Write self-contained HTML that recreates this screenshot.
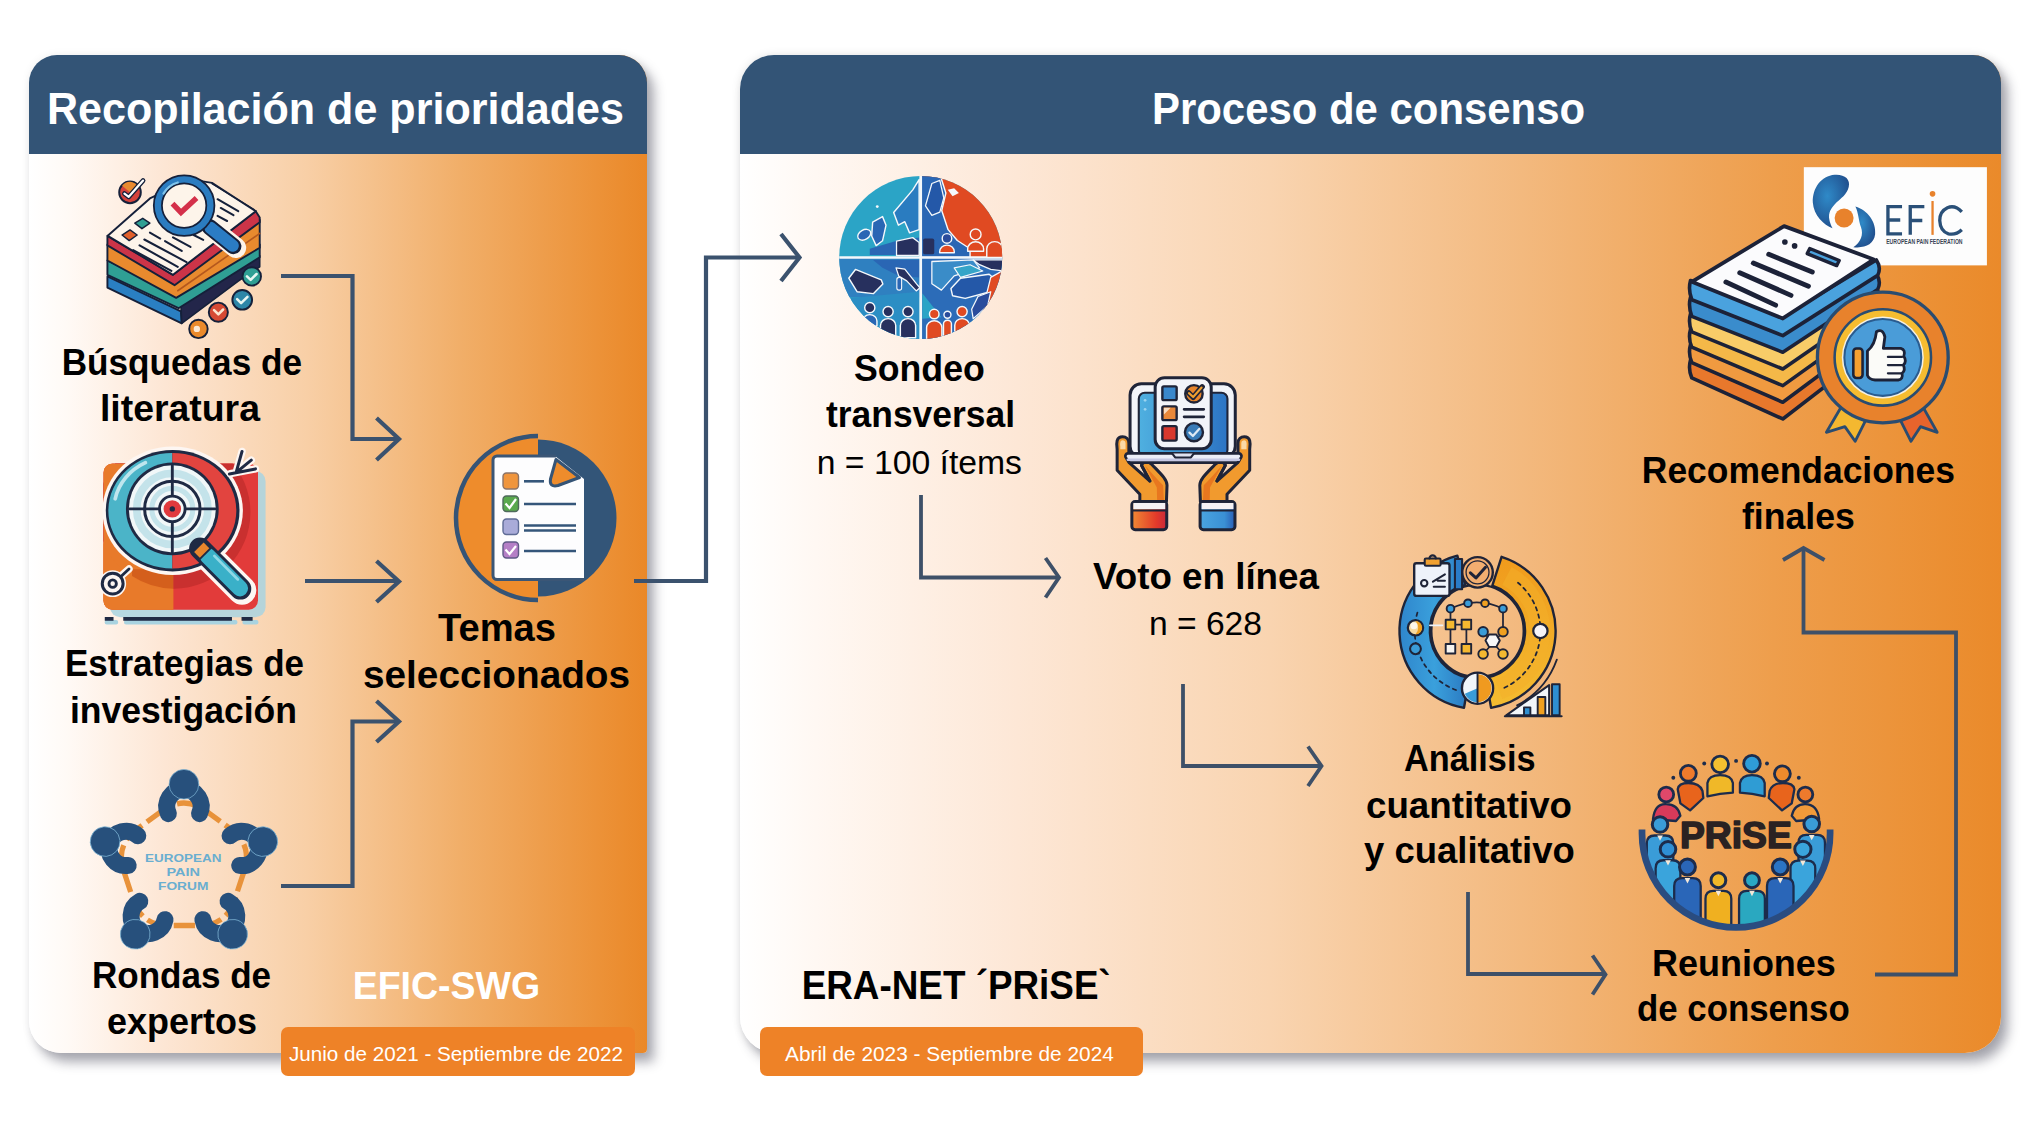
<!DOCTYPE html>
<html><head><meta charset="utf-8">
<style>
html,body{margin:0;padding:0;background:#fff;}
body{width:2040px;height:1131px;position:relative;overflow:hidden;font-family:"Liberation Sans",sans-serif;}
.panel{position:absolute;top:55px;height:998px;overflow:hidden;}
#pl{left:29px;width:618px;border-radius:28px 28px 4px 32px;background:linear-gradient(90deg,#ffffff 0%,#fffaf6 6%,#fde6d4 22%,#f8cfa6 45%,#f1ae68 70%,#ec9238 92%,#ea8828 100%);}
#pr{left:740px;width:1261px;border-radius:34px 28px 36px 36px;background:linear-gradient(90deg,#ffffff 0%,#fff8f3 6%,#fde7d6 22%,#f9d4b0 42%,#f3b97e 62%,#ee9e4c 82%,#ea8a2a 100%);}
.sh{position:absolute;top:55px;height:998px;}
#sl{left:29px;width:618px;border-radius:28px 28px 4px 32px;box-shadow:7px 9px 12px rgba(40,40,60,.40),0 0 10px rgba(0,0,0,.06);}
#sr{left:740px;width:1261px;border-radius:34px 28px 36px 36px;box-shadow:7px 9px 12px rgba(40,40,60,.40),0 0 10px rgba(0,0,0,.10);}
.hd{position:absolute;left:0;top:0;right:0;height:98.5px;background:#335476;}
.badge{position:absolute;top:1027px;height:49px;border-radius:7px;background:#ee8227;}
svg{position:absolute;left:0;top:0;}
text{font-family:"Liberation Sans",sans-serif;}
.b{font-weight:bold;}
</style></head><body>
<div class="sh" id="sl"></div><div class="sh" id="sr"></div>
<div class="panel" id="pl"><div class="hd"></div></div>
<div class="panel" id="pr"><div class="hd"></div></div>
<div class="badge" style="left:280.5px;width:354.5px"></div>
<div class="badge" style="left:759.5px;width:383px"></div>
<svg width="2040" height="1131" viewBox="0 0 2040 1131">
<!-- ARROWS -->
<g id="arrows" fill="none" stroke="#3b526e" stroke-width="4.2" stroke-linejoin="miter">
<path d="M281 276H352.5V439H398"/><path d="M376.5 418L399 439L376.5 460"/>
<path d="M305 581H398"/><path d="M376.5 561L399 581.5L376.5 602"/>
<path d="M281 886H352.5V721.5H398"/><path d="M376.5 701L399 721.5L376.5 742"/>
<path d="M634 581H706V257.5H798"/><path d="M781 234L799.5 257.5L781 281"/>
</g>
<g id="arrows2" fill="none" stroke="#3e5068" stroke-width="3.8" stroke-linejoin="miter">
<path d="M921 495V577.5H1058"/><path d="M1045.5 558L1059 577.5L1045.5 597.5"/>
<path d="M1183 684V766H1320"/><path d="M1308 746.5L1321.5 766L1308 786"/>
<path d="M1468 892V974H1604"/><path d="M1592.5 955.5L1605.5 974.5L1592.5 994.5"/>
<path d="M1875 974.5H1956V632.5H1803.5V549"/><path d="M1783 560L1803.5 548L1824.5 560"/>
</g>
<!-- TEXT -->
<g id="txt" fill="#000">
<text class="b" x="47.0" y="124" font-size="45" fill="#fff" textLength="577.0" lengthAdjust="spacingAndGlyphs">Recopilación de prioridades</text>
<text class="b" x="1152.0" y="124" font-size="45" fill="#fff" textLength="433.1" lengthAdjust="spacingAndGlyphs">Proceso de consenso</text>
<text class="b" x="61.7" y="375" font-size="36" textLength="240.3" lengthAdjust="spacingAndGlyphs">Búsquedas de</text>
<text class="b" x="99.9" y="421" font-size="36" textLength="160.1" lengthAdjust="spacingAndGlyphs">literatura</text>
<text class="b" x="65.0" y="676" font-size="36" textLength="239.0" lengthAdjust="spacingAndGlyphs">Estrategias de</text>
<text class="b" x="69.9" y="722.5" font-size="36" textLength="227.1" lengthAdjust="spacingAndGlyphs">investigación</text>
<text class="b" x="92.0" y="987.5" font-size="36" textLength="179.1" lengthAdjust="spacingAndGlyphs">Rondas de</text>
<text class="b" x="107.0" y="1033.5" font-size="36" textLength="150.0" lengthAdjust="spacingAndGlyphs">expertos</text>
<text class="b" x="438.0" y="641" font-size="39.5" textLength="118.0" lengthAdjust="spacingAndGlyphs">Temas</text>
<text class="b" x="363.0" y="687.5" font-size="39.5" textLength="267.1" lengthAdjust="spacingAndGlyphs">seleccionados</text>
<text class="b" x="352.7" y="999" font-size="39.5" fill="#fff" textLength="187.4" lengthAdjust="spacingAndGlyphs">EFIC-SWG</text>
<text x="289.0" y="1060.5" font-size="20.5" fill="#fff" textLength="334.0" lengthAdjust="spacingAndGlyphs">Junio de 2021 - Septiembre de 2022</text>
<text class="b" x="854.0" y="381" font-size="36" textLength="130.8" lengthAdjust="spacingAndGlyphs">Sondeo</text>
<text class="b" x="826.0" y="427" font-size="36" textLength="189.0" lengthAdjust="spacingAndGlyphs">transversal</text>
<text x="816.7" y="473.5" font-size="33.5" textLength="205.3" lengthAdjust="spacingAndGlyphs">n = 100 ítems</text>
<text class="b" x="1093.0" y="589" font-size="36" textLength="225.9" lengthAdjust="spacingAndGlyphs">Voto en línea</text>
<text x="1148.9" y="635" font-size="33.5" textLength="113.1" lengthAdjust="spacingAndGlyphs">n = 628</text>
<text class="b" x="1404.0" y="771" font-size="36" textLength="131.5" lengthAdjust="spacingAndGlyphs">Análisis</text>
<text class="b" x="1366.0" y="817.5" font-size="36" textLength="206.0" lengthAdjust="spacingAndGlyphs">cuantitativo</text>
<text class="b" x="1364.0" y="862.5" font-size="36" textLength="210.8" lengthAdjust="spacingAndGlyphs">y cualitativo</text>
<text class="b" x="1652.0" y="975.5" font-size="36" textLength="183.8" lengthAdjust="spacingAndGlyphs">Reuniones</text>
<text class="b" x="1637.0" y="1021" font-size="36" textLength="212.7" lengthAdjust="spacingAndGlyphs">de consenso</text>
<text class="b" x="1641.8" y="482.5" font-size="36" textLength="313.1" lengthAdjust="spacingAndGlyphs">Recomendaciones</text>
<text class="b" x="1742.0" y="528.5" font-size="36" textLength="112.8" lengthAdjust="spacingAndGlyphs">finales</text>
<text class="b" x="801.7" y="999" font-size="40" textLength="309.1" lengthAdjust="spacingAndGlyphs">ERA-NET ´PRiSE`</text>
<text x="785.0" y="1060.5" font-size="20.5" fill="#fff" textLength="328.8" lengthAdjust="spacingAndGlyphs">Abril de 2023 - Septiembre de 2024</text>
</g>
<!-- ICONS -->
<g id="ico1" transform="translate(95,165) scale(0.15915)" stroke-linejoin="round" stroke-linecap="round">
<!-- blue bottom -->
<path d="M78 700L540 920L545 995L78 770Z" fill="#2a7fc2" stroke="#15203a" stroke-width="12"/>
<path d="M540 880L1035 570L1035 640L900 730L545 995Z" fill="#23264a" stroke="#15203a" stroke-width="10"/>
<!-- teal -->
<path d="M78 600L520 820L1035 500L1035 580L525 900L78 690Z" fill="#2f9f94" stroke="#15203a" stroke-width="12"/>
<!-- orange -->
<path d="M78 500L500 745L1035 345L1035 520L510 835L78 600Z" fill="#e98a2e" stroke="#15203a" stroke-width="12"/>
<path d="M520 790L1035 430" fill="none" stroke="#b4581e" stroke-width="10"/>
<!-- red -->
<path d="M78 445L490 690L1010 290L1035 330L1035 360L500 755L78 505Z" fill="#cc3448" stroke="#15203a" stroke-width="12"/>
<!-- paper -->
<path d="M80 445L345 210L600 90L735 112L1010 290L490 690Z" fill="#fdf4ea" stroke="#15203a" stroke-width="12"/>
<!-- squares -->
<path d="M250 365L300 335L345 365L295 400Z" fill="#2f9f94" stroke="#15203a" stroke-width="9"/>
<path d="M170 440L220 408L265 440L215 475Z" fill="#e0602c" stroke="#15203a" stroke-width="9"/>
<!-- lines -->
<g stroke="#15203a" stroke-width="13" fill="none">
<path d="M345 425L410 462M440 478L545 540"/><path d="M310 468L575 610"/><path d="M280 505L520 640"/><path d="M240 535L480 665" />
<path d="M490 455L600 515M620 440L680 470"/>
<path d="M770 215L900 290"/><path d="M790 270L870 315"/><path d="M770 320L830 352"/><path d="M735 118L1000 280" stroke-width="8"/>
</g>
<!-- magnifier -->
<path d="M715 385L885 520" stroke="#fdf4ea" stroke-width="130" fill="none"/>
<path d="M720 390L870 510" stroke="#15203a" stroke-width="100" fill="none"/>
<path d="M725 394L866 507" stroke="#2b7cc4" stroke-width="76" fill="none"/>
<circle cx="560" cy="255" r="165" fill="#fdf4ea" stroke="#15203a" stroke-width="62"/>
<circle cx="560" cy="255" r="165" fill="none" stroke="#2b7cc0" stroke-width="40"/>
<path d="M430 180A150 150 0 0 1 520 110" stroke="#7fc3ea" stroke-width="14" fill="none"/>
<path d="M487 243L540 298L638 207" fill="none" stroke="#d4304a" stroke-width="34" stroke-linejoin="miter" stroke-linecap="butt"/>
<!-- balls -->
<circle cx="220" cy="172" r="68" fill="#d4423c" stroke="#15203a" stroke-width="12"/>
<path d="M170 130A60 60 0 0 1 270 135L220 172Z" fill="#e88a30"/>
<path d="M185 180L212 200L302 98" fill="none" stroke="#15203a" stroke-width="30"/>
<path d="M185 180L212 200L302 98" fill="none" stroke="#fff" stroke-width="14"/>
<circle cx="985" cy="700" r="58" fill="#2f9f94" stroke="#15203a" stroke-width="12"/>
<path d="M955 700L978 722L1015 685" fill="none" stroke="#e8f6f2" stroke-width="16"/>
<circle cx="925" cy="847" r="62" fill="#2c86a8" stroke="#15203a" stroke-width="12"/>
<path d="M893 843L918 868L958 828" fill="none" stroke="#e8f6f2" stroke-width="16"/>
<circle cx="775" cy="925" r="60" fill="#d64a34" stroke="#15203a" stroke-width="12"/>
<path d="M748 912L775 938L805 908" fill="none" stroke="#fbe6d0" stroke-width="16"/>
<circle cx="650" cy="1030" r="58" fill="#ea8a2c" stroke="#15203a" stroke-width="12"/>
<circle cx="640" cy="1030" r="20" fill="#fbe9d6"/>
</g>
<g id="ico2" transform="translate(90,440) scale(0.168)" stroke-linejoin="round" stroke-linecap="round">
<defs><clipPath id="c2a"><rect x="80" y="140" width="920" height="870" rx="55"/></clipPath></defs>
<rect x="120" y="185" width="925" height="870" rx="60" fill="#a9d3e0" opacity=".85"/>
<rect x="80" y="140" width="920" height="870" rx="55" fill="#e23b3a"/>
<g clip-path="url(#c2a)">
<rect x="80" y="140" width="415" height="870" fill="#e87a2a"/>
<circle cx="500" cy="430" r="455" fill="#c9302f"/>
<path d="M495 140V1010H80V140Z" fill="#e87a2a"/>
<path d="M495 885A455 455 0 0 1 60 560L60 1010H495Z" fill="#e87a2a"/>
<path d="M495 885A455 455 0 0 1 250 810L250 770L495 770Z" fill="#d45f1c"/>
</g>
<ellipse cx="492" cy="421" rx="418" ry="382" fill="#fdf6f2"/>
<path d="M650 640L905 895" stroke="#fdf6f2" stroke-width="170" fill="none"/>
<ellipse cx="492" cy="421" rx="398" ry="361" fill="#1f2a44"/>
<path d="M490 77A381 344 0 0 0 490 765Z" fill="#4bb4c8"/>
<path d="M490 77A381 344 0 0 1 490 765Z" fill="#e2443f"/>
<path d="M150 350A345 310 0 0 1 330 135" fill="none" stroke="#bfe6ee" stroke-width="22"/>
<circle cx="490" cy="410" r="276" fill="#1f2a44"/>
<circle cx="490" cy="410" r="259" fill="#f1f7f8"/>
<circle cx="490" cy="410" r="212" fill="none" stroke="#c4e3ea" stroke-width="46"/>
<circle cx="490" cy="410" r="165" fill="#f1f7f8" stroke="#1f2a44" stroke-width="18"/>
<circle cx="490" cy="410" r="122" fill="none" stroke="#c4e3ea" stroke-width="30"/>
<path d="M235 410H745M490 150V670" stroke="#1f2a44" stroke-width="17" fill="none"/>
<circle cx="490" cy="410" r="76" fill="#f1f7f8" stroke="#1f2a44" stroke-width="17"/>
<circle cx="490" cy="410" r="52" fill="#e03a3e"/>
<circle cx="490" cy="410" r="16" fill="#1f2a44"/>
<path d="M655 645L895 885" stroke="#1f2a44" stroke-width="130" fill="none"/>
<path d="M700 690L893 883" stroke="#3ab0c8" stroke-width="96" fill="none"/>
<path d="M640 630L690 680" stroke="#1f2a44" stroke-width="110" stroke-linecap="butt" fill="none"/>
<path d="M648 638L682 672" stroke="#e8862c" stroke-width="80" stroke-linecap="butt" fill="none"/>
<path d="M740 690L880 830" stroke="#8fd8e6" stroke-width="16" fill="none"/>
<g stroke="#fdf6f2" stroke-width="44" fill="none"><path d="M835 200L985 172M872 185L905 68M880 185L960 120"/></g>
<g stroke="#1f2a44" stroke-width="18" fill="none"><path d="M830 202L985 172M872 185L905 68M880 185L960 120"/></g>
<path d="M150 840L232 768" stroke="#fdf6f2" stroke-width="44" fill="none"/>
<circle cx="135" cy="855" r="80" fill="#fdf6f2"/>
<path d="M165 830L232 768" stroke="#1f2a44" stroke-width="17" fill="none"/>
<circle cx="135" cy="855" r="62" fill="#fdf6f2" stroke="#1f2a44" stroke-width="18"/>
<circle cx="135" cy="855" r="22" fill="#fdf6f2" stroke="#1f2a44" stroke-width="17"/>
<path d="M100 1085H155M215 1085H865M920 1085H990" stroke="#a9d3e0" stroke-width="26" fill="none"/>
<path d="M88 1065H140M198 1065H845M902 1065H968" stroke="#1f2a44" stroke-width="22" stroke-linecap="butt" fill="none"/>
</g>
<g id="ico3" transform="translate(80,762) scale(0.17677)">
<path d="M464 277Q588 187 712 277L852 379Q976 469 929 615L875 779Q828 925 674 925L502 925Q348 925 301 779L247 615Q200 469 324 379Z" fill="none" stroke="#e8923a" stroke-width="30" stroke-linejoin="round" stroke-dasharray="120 34" stroke-dashoffset="60"/>
<g transform="rotate(0 588 595)"><path d="M500 292A97 97 0 1 1 676 292" fill="none" stroke="#27507c" stroke-width="96" stroke-linecap="round"/><circle cx="588" cy="126" r="84" fill="#27507c" stroke="#7fb6d6" stroke-width="4"/></g>
<g transform="rotate(72 588 595)"><path d="M500 292A97 97 0 1 1 676 292" fill="none" stroke="#27507c" stroke-width="96" stroke-linecap="round"/><circle cx="588" cy="126" r="84" fill="#27507c" stroke="#7fb6d6" stroke-width="4"/></g>
<g transform="rotate(144 588 595)"><path d="M500 292A97 97 0 1 1 676 292" fill="none" stroke="#27507c" stroke-width="96" stroke-linecap="round"/><circle cx="588" cy="126" r="84" fill="#27507c" stroke="#7fb6d6" stroke-width="4"/></g>
<g transform="rotate(216 588 595)"><path d="M500 292A97 97 0 1 1 676 292" fill="none" stroke="#27507c" stroke-width="96" stroke-linecap="round"/><circle cx="588" cy="126" r="84" fill="#27507c" stroke="#7fb6d6" stroke-width="4"/></g>
<g transform="rotate(288 588 595)"><path d="M500 292A97 97 0 1 1 676 292" fill="none" stroke="#27507c" stroke-width="96" stroke-linecap="round"/><circle cx="588" cy="126" r="84" fill="#27507c" stroke="#7fb6d6" stroke-width="4"/></g>
<g fill="#6aaed0" font-weight="bold" font-size="62" text-anchor="middle" style="font-family:'Liberation Sans',sans-serif">
<text x="584" y="566" textLength="432" lengthAdjust="spacingAndGlyphs">EUROPEAN</text>
<text x="584" y="645" textLength="190" lengthAdjust="spacingAndGlyphs">PAIN</text>
<text x="584" y="722" textLength="285" lengthAdjust="spacingAndGlyphs">FORUM</text></g>
</g>
<g id="ico4">
<path d="M538 434.5A83 83 0 0 0 538 601.5Z" fill="#ee8c2c"/>
<path d="M538 436A82 82 0 0 0 538 600" fill="none" stroke="#355476" stroke-width="4.5"/>
<path d="M538 439.5A78.5 78.5 0 0 1 538 596.5Z" fill="#335578"/>
<path d="M497 456H555L584 479V579.5H497a4 4 0 0 1-4-4V460a4 4 0 0 1 4-4Z" fill="#fdfdfe"/>
<path d="M556 456H497a4 4 0 0 0-4 4V575.5a4 4 0 0 0 4 4H584" fill="none" stroke="#3b5676" stroke-width="3"/>
<path d="M556 459.5L579.5 477.5L558 485.5Q549 487.5 550.5 479Z" fill="#ee8c2c" stroke="#355476" stroke-width="3" stroke-linejoin="round"/>
<rect x="503" y="473" width="15.5" height="16" rx="3.5" fill="#f0953c" stroke="#8c7468" stroke-width="1.4"/>
<rect x="503" y="496" width="15.5" height="15.5" rx="3.5" fill="#5aa94e" stroke="#4f6a5c" stroke-width="1.4"/>
<path d="M505.5 503.5l4 4.5l6.5-9" fill="none" stroke="#fff" stroke-width="2.2"/>
<rect x="503" y="519" width="15.5" height="15.5" rx="3.5" fill="#a9abd9" stroke="#5f6c96" stroke-width="1.4"/>
<rect x="503" y="542" width="15.5" height="16" rx="3.5" fill="#b57fc6" stroke="#5f5a86" stroke-width="1.4"/>
<path d="M505.5 549.5l4 4.5l6.5-8" fill="none" stroke="#fff" stroke-width="2.2"/>
<g stroke="#35567a" stroke-width="2.6"><path d="M524 481.3H544"/><path d="M524 504H576"/><path d="M524 525.5H576"/><path d="M524 530.5H576"/><path d="M524 551H576"/></g>
</g>
<g id="ico5" transform="translate(830,166) scale(0.15915)" stroke-linejoin="round">
<defs><clipPath id="c5"><circle cx="570" cy="575" r="512"/></clipPath></defs>
<g clip-path="url(#c5)">
<rect x="50" y="50" width="1050" height="1050" fill="#2ba4c6"/>
<!-- TR -->
<rect x="570" y="50" width="530" height="525" fill="#e04a22"/>
<path d="M570 50H690L728 170L702 280L742 400L800 468L880 520V575H570Z" fill="#2a66b4" stroke="#f4f8fb" stroke-width="9"/>
<path d="M600 250L640 110L690 90L715 200L690 290L640 310Z" fill="#2458a8" stroke="#f4f8fb" stroke-width="8"/>
<path d="M740 150l40 -10l30 30l-40 20z" fill="#f4f8fb"/>
<!-- BR -->
<rect x="570" y="575" width="530" height="530" fill="#2c6cb8"/>
<path d="M640 600L900 590L940 640L780 690L700 780L640 740Z" fill="#3a8cc8" stroke="#f4f8fb" stroke-width="8"/>
<path d="M780 640L880 620L960 660L820 700Z" fill="#35a5c8" stroke="#f4f8fb" stroke-width="7"/>
<path d="M760 770L820 705L1000 680L1045 720L1005 790L850 832L770 815Z" fill="#2458a8" stroke="#f4f8fb" stroke-width="9"/>
<path d="M900 590H1100V660L1010 650L940 620Z" fill="#27305e" stroke="#f4f8fb" stroke-width="8"/>
<path d="M1010 700L1100 650V1000L900 1100L960 900Z" fill="#e04a22" stroke="#f4f8fb" stroke-width="8"/>
<path d="M930 820L1010 790L990 880L900 960L890 900Z" fill="#2a4c9c" stroke="#f4f8fb" stroke-width="8"/>
<path d="M580 800L700 950L580 960Z" fill="#2ba4c6"/>
<!-- BL -->
<rect x="40" y="575" width="530" height="250" fill="#2f80c0"/>
<path d="M270 590H560V700L430 690L330 640Z" fill="#2a66b4"/>
<path d="M130 830L560 790V1100H130Z" fill="#2b8ec4"/>
<path d="M118 705L160 650L322 715L332 742L272 802L170 790Z" fill="#27305e" stroke="#f4f8fb" stroke-width="9"/>
<path d="M415 640L470 648L545 742L565 765L542 785L482 722L432 692Z" fill="#27305e" stroke="#f4f8fb" stroke-width="8"/>
<rect x="420" y="700" width="30" height="80" rx="14" fill="#2a66b4" stroke="#f4f8fb" stroke-width="7"/>
<!-- TL -->
<path d="M250 520L420 470L560 450V560H250Z" fill="#2a66b4"/>
<ellipse cx="215" cy="432" rx="44" ry="30" transform="rotate(-30 215 432)" fill="#2a66b4" stroke="#f4f8fb" stroke-width="9"/>
<path d="M268 352L330 318L352 372L330 470L290 500L262 440Z" fill="#2a66b4" stroke="#f4f8fb" stroke-width="9"/>
<path d="M400 292L520 150L560 85V400L500 420L470 350L430 372Z" fill="#2a7cc0" stroke="#f4f8fb" stroke-width="9"/>
<path d="M418 472L520 450L560 480V562H418Z" fill="#27305e" stroke="#f4f8fb" stroke-width="8"/>
<circle cx="297" cy="255" r="9" fill="#f4f8fb"/>
<!-- cross -->
<path d="M570 40V1110M40 575H1100" stroke="#f4f8fb" stroke-width="17" fill="none"/>
<rect x="585" y="455" width="70" height="100" rx="12" fill="#27305e"/>
<!-- people -->
<path d="M689.0 545V538.4a46.0 41.4 0 0 1 92 0V545Z" fill="#e04a22" stroke="#f4f8fb" stroke-width="9"/><circle cx="735" cy="455" r="30" fill="#2a4c9c" stroke="#f4f8fb" stroke-width="9"/>
<path d="M865.0 536V521.0a50.0 45.0 0 0 1 100 0V536Z" fill="#e04a22" stroke="#f4f8fb" stroke-width="9"/><circle cx="915" cy="430" r="34" fill="#e04a22" stroke="#f4f8fb" stroke-width="9"/>
<path d="M985 575V520a50 45 0 0 1 100 0V575Z" fill="#e04a22" stroke="#f4f8fb" stroke-width="9"/>
<path d="M205.0 1004V974.5a45.0 40.5 0 0 1 90 0V1004Z" fill="#2a66b4" stroke="#f4f8fb" stroke-width="9"/><circle cx="250" cy="890" r="32" fill="#27305e" stroke="#f4f8fb" stroke-width="9"/>
<path d="M317.0 1079V1002.2a48.0 43.2 0 0 1 96 0V1079Z" fill="#27305e" stroke="#f4f8fb" stroke-width="9"/><circle cx="365" cy="915" r="32" fill="#27305e" stroke="#f4f8fb" stroke-width="9"/>
<path d="M442.0 1079V1002.2a48.0 43.2 0 0 1 96 0V1079Z" fill="#27305e" stroke="#f4f8fb" stroke-width="9"/><circle cx="490" cy="915" r="32" fill="#27305e" stroke="#f4f8fb" stroke-width="9"/>
<path d="M607.0 1092V1015.2a48.0 43.2 0 0 1 96 0V1092Z" fill="#e04a22" stroke="#f4f8fb" stroke-width="9"/><circle cx="655" cy="930" r="30" fill="#e04a22" stroke="#f4f8fb" stroke-width="9"/>
<path d="M713.0 1089V991.5a25.0 22.5 0 0 1 50 0V1089Z" fill="#e04a22" stroke="#f4f8fb" stroke-width="9"/><circle cx="738" cy="935" r="22" fill="#2a4c9c" stroke="#f4f8fb" stroke-width="9"/>
<path d="M784.0 1079V1000.4a46.0 41.4 0 0 1 92 0V1079Z" fill="#e04a22" stroke="#f4f8fb" stroke-width="9"/><circle cx="830" cy="915" r="32" fill="#e04a22" stroke="#f4f8fb" stroke-width="9"/>
</g>
</g>
<g id="ico6" transform="translate(1100,365) scale(0.1503)" stroke-linejoin="round" stroke-linecap="round">
<defs><linearGradient id="g6a" x1="0" x2="1"><stop offset="0" stop-color="#4fb0e0"/><stop offset="1" stop-color="#2c74c4"/></linearGradient>
<linearGradient id="g6b" x1="0" x2="1"><stop offset="0" stop-color="#f08a34"/><stop offset=".7" stop-color="#e23a2a"/><stop offset="1" stop-color="#c8283a"/></linearGradient>
<linearGradient id="g6c" x1="0" x2="1"><stop offset="0" stop-color="#4aa4e0"/><stop offset=".7" stop-color="#3a90d4"/><stop offset="1" stop-color="#2a5cb4"/></linearGradient></defs>
<g id="hL"><path d="M150 478C108 478 108 520 114 560L114 700L265 860L265 910L442 910L446 800C446 760 400 720 345 662C322 638 284 640 276 668L332 772L192 648L192 520C192 490 172 478 150 478Z" fill="#f19a2e" stroke="#1f2438" stroke-width="20"/>
<path d="M300 670L395 775L420 800L425 900L380 900L378 815Z" fill="#e8771f"/>
<path d="M150 500C135 500 132 520 135 540L135 560L170 560L170 520C170 505 160 500 150 500Z" fill="#fbd9a6"/>
<path d="M276 668L332 772" stroke="#1f2438" stroke-width="20" fill="none"/></g>
<g transform="translate(1110 0) scale(-1 1)"><path d="M150 478C108 478 108 520 114 560L114 700L265 860L265 910L442 910L446 800C446 760 400 720 345 662C322 638 284 640 276 668L332 772L192 648L192 520C192 490 172 478 150 478Z" fill="#f19a2e" stroke="#1f2438" stroke-width="20"/>
<path d="M300 670L395 775L420 800L425 900L380 900L378 815Z" fill="#e8771f"/>
<path d="M150 500C135 500 132 520 135 540L135 560L170 560L170 520C170 505 160 500 150 500Z" fill="#fbd9a6"/>
<path d="M276 668L332 772" stroke="#1f2438" stroke-width="20" fill="none"/></g>
<rect x="200" y="125" width="700" height="490" rx="75" fill="#f2f4f9" stroke="#1f2438" stroke-width="20"/>
<rect x="258" y="185" width="590" height="420" rx="40" fill="url(#g6a)" stroke="#1f2438" stroke-width="14"/>
<circle cx="300" cy="235" r="9" fill="#9ad4f0"/><circle cx="300" cy="295" r="9" fill="#9ad4f0"/>
<path d="M185 588H925a18 18 0 0 1 15 25L925 640a20 20 0 0 1-18 10H205a20 20 0 0 1-18-10L170 613a18 18 0 0 1 15-25Z" fill="#eceef8" stroke="#1f2438" stroke-width="18"/>
<path d="M185 630H925" stroke="#c6c8e4" stroke-width="16" fill="none"/>
<path d="M480 588L500 615H605L625 588" fill="#dfe2f0" stroke="#1f2438" stroke-width="14"/>
<rect x="367" y="85" width="373" height="472" rx="62" fill="#f2f4f9" stroke="#1f2438" stroke-width="20"/>
<rect x="415" y="142" width="95" height="92" rx="10" fill="#3a88cc" stroke="#1f2438" stroke-width="16"/>
<rect x="415" y="275" width="95" height="92" rx="10" fill="#e8883a" stroke="#1f2438" stroke-width="16"/>
<path d="M425 285H470L425 330Z" fill="#f8dcc0"/>
<rect x="415" y="407" width="95" height="96" rx="10" fill="#d8382e" stroke="#1f2438" stroke-width="16"/>
<circle cx="625" cy="192" r="58" fill="#e8862c" stroke="#1f2438" stroke-width="16"/>
<path d="M590 185L620 215L680 145" fill="none" stroke="#1f2438" stroke-width="36"/>
<path d="M592 187L620 213L676 150" fill="none" stroke="#f0a030" stroke-width="14"/>
<path d="M560 295H690M560 345H690" stroke="#1f2438" stroke-width="19" fill="none"/>
<circle cx="625" cy="447" r="60" fill="#3a7cb8" stroke="#1f2438" stroke-width="16"/>
<path d="M595 450L618 472L660 425" fill="none" stroke="#dfeaf4" stroke-width="15"/>
<rect x="212" y="908" width="232" height="188" rx="22" fill="url(#g6b)" stroke="#1f2438" stroke-width="20"/>
<rect x="222" y="918" width="212" height="42" fill="#f6f2f4"/>
<path d="M212 968H444" stroke="#1f2438" stroke-width="12"/>
<rect x="666" y="908" width="232" height="188" rx="22" fill="url(#g6c)" stroke="#1f2438" stroke-width="20"/>
<rect x="676" y="918" width="212" height="42" fill="#f6f2f4"/>
<path d="M666 968H898" stroke="#1f2438" stroke-width="12"/>
</g>
<g id="ico7" transform="translate(1390,545) scale(0.15915)" stroke-linejoin="round" stroke-linecap="round">
<defs><linearGradient id="g7a" x1="0" x2="1"><stop offset="0" stop-color="#2f86cc"/><stop offset=".5" stop-color="#3aa0dc"/><stop offset="1" stop-color="#2a78c0"/></linearGradient>
<linearGradient id="g7b" x1="0" y1="0" x2="0" y2="1"><stop offset="0" stop-color="#f09a1c"/><stop offset="1" stop-color="#f4bc30"/></linearGradient></defs>
<path d="M1048 721A530 530 0 0 1 799 1008" fill="none" stroke="#1f2438" stroke-width="12"/>
<path d="M465 1023A490 490 0 0 1 423 67L472 250A300 300 0 0 0 498 835Z" fill="url(#g7a)" stroke="#1f2438" stroke-width="15"/>
<path d="M701 74A490 490 0 0 1 635 1023L602 835A300 300 0 0 0 643 255Z" fill="url(#g7b)" stroke="#1f2438" stroke-width="15"/>
<path d="M764 138A455 455 0 0 1 706 968L663 850A330 330 0 0 0 705 249Z" fill="#f4b02a" opacity=".5"/>
<path d="M415 911A395 395 0 0 1 179 405" fill="none" stroke="#1f2438" stroke-width="11" stroke-dasharray="22 26"/>
<path d="M804 237A395 395 0 0 1 717 898" fill="none" stroke="#1f2438" stroke-width="11" stroke-dasharray="22 26"/>
<circle cx="550" cy="540" r="290" fill="none" stroke="#1f2438" stroke-width="14"/>
<rect x="408" y="88" width="45" height="190" fill="#2a7cc8" stroke="#1f2438" stroke-width="13"/>
<circle cx="550" cy="172" r="96" fill="#f2ae70" stroke="#1f2438" stroke-width="15"/>
<circle cx="550" cy="172" r="72" fill="none" stroke="#1f2438" stroke-width="8"/>
<path d="M505 175L540 207L600 140" fill="none" stroke="#1f2438" stroke-width="19"/>
<circle cx="550" cy="900" r="98" fill="#f2f6fa" stroke="#1f2438" stroke-width="15"/>
<path d="M550 812A88 88 0 0 1 550 988Z" fill="#f09a20"/>
<path d="M550 988A88 88 0 0 1 470 935L550 900Z" fill="#3a9cd8"/>
<path d="M550 805V995" stroke="#1f2438" stroke-width="12"/>
<rect x="152" y="115" width="222" height="205" rx="14" fill="#eef2fa" stroke="#1f2438" stroke-width="15"/>
<rect x="218" y="85" width="100" height="45" rx="8" fill="#f0a030" stroke="#1f2438" stroke-width="13"/>
<path d="M248 85a20 20 0 0 1 40 0" fill="none" stroke="#1f2438" stroke-width="13"/>
<circle cx="215" cy="240" r="20" fill="none" stroke="#1f2438" stroke-width="13"/>
<path d="M270 230L345 185M275 262H345M300 225H345" stroke="#1f2438" stroke-width="13" fill="none"/>
<circle cx="160" cy="520" r="48" fill="#f6d9a0" stroke="#1f2438" stroke-width="14"/>
<path d="M160 478A42 42 0 0 1 160 562A60 60 0 0 0 160 478Z" fill="#f0a020"/>
<circle cx="150" cy="508" r="22" fill="#fdf6ea"/>
<circle cx="160" cy="652" r="34" fill="#3a9cd8" stroke="#1f2438" stroke-width="13"/>
<circle cx="945" cy="540" r="45" fill="#f6f4f8" stroke="#1f2438" stroke-width="14"/>
<path d="M250 505H330" stroke="#eef2fa" stroke-width="10"/>
<path d="M730 1070L1000 880V1070Z" fill="#f2f6fa" stroke="#1f2438" stroke-width="13"/>
<rect x="842" y="1020" width="40" height="50" fill="#2f8fd0" stroke="#1f2438" stroke-width="12"/>
<rect x="928" y="955" width="48" height="115" fill="#f0a020" stroke="#1f2438" stroke-width="12"/>
<rect x="1018" y="875" width="48" height="195" fill="#2f8fd0" stroke="#1f2438" stroke-width="12"/>
<path d="M722 1076H1078" stroke="#1f2438" stroke-width="14"/>
<!-- center -->
<g stroke="#1f2438" stroke-width="11" fill="none"><path d="M380 400Q545 320 710 400M380 400V470M710 400V545M380 530V620M480 530V620M410 500H450M585 545L710 685M710 545L585 685"/></g>
<g stroke="#1f2438" stroke-width="12">
<rect x="350" y="470" width="60" height="60" fill="#f4b830"/><rect x="450" y="470" width="60" height="60" fill="#f4b830"/>
<rect x="350" y="622" width="60" height="60" fill="#f6f4f0"/><rect x="450" y="622" width="60" height="60" fill="#f4b830"/>
<circle cx="380" cy="400" r="24" fill="#3a9cd8"/><circle cx="490" cy="366" r="24" fill="#3a9cd8"/><circle cx="597" cy="366" r="24" fill="#f0a020"/><circle cx="710" cy="400" r="24" fill="#3a9cd8"/>
<path d="M600 600L622 562H668L690 600L668 640H622Z" fill="#f6f6f8"/>
<circle cx="585" cy="545" r="30" fill="#3a9cd8"/><circle cx="710" cy="545" r="30" fill="#f0a020"/><circle cx="585" cy="685" r="30" fill="#f4b830"/><circle cx="710" cy="685" r="30" fill="#f4b830"/>
</g>
</g>
<g id="ico8" transform="translate(1630,745) scale(0.17677)" stroke-linejoin="round" stroke-linecap="round">
<defs><clipPath id="c8"><circle cx="600" cy="500" r="540"/></clipPath></defs>

<!-- top people -->
<g transform="rotate(-62 205 280)"></g>
<path d="M130 420Q140 330 205 335Q270 335 285 400L260 430Z" fill="#d83a5a" stroke="#1c2c4c" stroke-width="13"/>
<circle cx="205" cy="280" r="42" fill="#e0486a" stroke="#1c2c4c" stroke-width="16"/>
<path d="M915 400Q930 335 990 335Q1060 335 1070 420L940 430Z" fill="#f09a3a" stroke="#1c2c4c" stroke-width="13"/>
<circle cx="992" cy="280" r="42" fill="#ee7a2c" stroke="#1c2c4c" stroke-width="16"/>
<path d="M270 250Q275 215 330 215Q395 215 410 260L415 300L340 370L285 330Z" fill="#e8641c" stroke="#1c2c4c" stroke-width="13"/>
<circle cx="330" cy="160" r="45" fill="#ee7a2c" stroke="#1c2c4c" stroke-width="16"/>
<path d="M930 250Q925 215 865 215Q805 215 790 260L785 300L860 370L915 330Z" fill="#e8641c" stroke="#1c2c4c" stroke-width="13"/>
<circle cx="862" cy="163" r="45" fill="#ee8a2c" stroke="#1c2c4c" stroke-width="16"/>
<path d="M438 290V215Q445 170 510 170Q575 170 582 215V270Q510 275 438 290Z" fill="#f0b828" stroke="#1c2c4c" stroke-width="13"/>
<circle cx="510" cy="110" r="47" fill="#f4c030" stroke="#1c2c4c" stroke-width="16"/>
<path d="M622 270V215Q630 170 690 170Q755 170 762 215V290Q690 275 622 270Z" fill="#2f9cd4" stroke="#1c2c4c" stroke-width="13"/>
<circle cx="690" cy="106" r="47" fill="#2f9cd8" stroke="#1c2c4c" stroke-width="16"/>
<g clip-path="url(#c8)">
<path d="M95.0 812V557Q95.0 512 140.0 512H200.0Q245.0 512 245.0 557V812Z" fill="#3a9cd8" stroke="#1c2c4c" stroke-width="13"/><path d="M154 512L170 542L186 512Z" fill="#f4e8d8"/><circle cx="170" cy="450" r="44" fill="#3a9cd8" stroke="#1c2c4c" stroke-width="17"/>
<path d="M953.0 809V554Q953.0 509 998.0 509H1058.0Q1103.0 509 1103.0 554V809Z" fill="#3a9cd8" stroke="#1c2c4c" stroke-width="13"/><path d="M1012 509L1028 539L1044 509Z" fill="#f4e8d8"/><circle cx="1028" cy="447" r="44" fill="#3a9cd8" stroke="#1c2c4c" stroke-width="17"/>
<path d="M145.0 982V697Q145.0 652 190.0 652H240.0Q285.0 652 285.0 697V982Z" fill="#3aa4dc" stroke="#1c2c4c" stroke-width="13"/><path d="M199 652L215 682L231 652Z" fill="#f4e8d8"/><circle cx="215" cy="590" r="44" fill="#2f8fd4" stroke="#1c2c4c" stroke-width="17"/>
<path d="M908.0 984V699Q908.0 654 953.0 654H1003.0Q1048.0 654 1048.0 699V984Z" fill="#3aa4dc" stroke="#1c2c4c" stroke-width="13"/><path d="M962 654L978 684L994 654Z" fill="#f4e8d8"/><circle cx="978" cy="590" r="46" fill="#3aa4dc" stroke="#1c2c4c" stroke-width="17"/>
<path d="M250.0 1083V798Q250.0 753 295.0 753H355.0Q400.0 753 400.0 798V1083Z" fill="#2a66b8" stroke="#1c2c4c" stroke-width="13"/><path d="M309 753L325 783L341 753Z" fill="#f4e8d8"/><circle cx="325" cy="690" r="45" fill="#2a66b8" stroke="#1c2c4c" stroke-width="17"/>
<path d="M775.0 1083V798Q775.0 753 820.0 753H880.0Q925.0 753 925.0 798V1083Z" fill="#2a66b8" stroke="#1c2c4c" stroke-width="13"/><path d="M834 753L850 783L866 753Z" fill="#f4e8d8"/><circle cx="850" cy="690" r="45" fill="#2a74c4" stroke="#1c2c4c" stroke-width="17"/>
<path d="M427.0 1155V870Q427.0 825 472.0 825H528.0Q573.0 825 573.0 870V1155Z" fill="#f0b020" stroke="#1c2c4c" stroke-width="13"/><path d="M484 825L500 855L516 825Z" fill="#f4e8d8"/><circle cx="500" cy="765" r="42" fill="#f0b828" stroke="#1c2c4c" stroke-width="17"/>
<path d="M617.0 1155V870Q617.0 825 662.0 825H718.0Q763.0 825 763.0 870V1155Z" fill="#2aa8c0" stroke="#1c2c4c" stroke-width="13"/><path d="M674 825L690 855L706 825Z" fill="#f4e8d8"/><circle cx="690" cy="765" r="42" fill="#2aa8c4" stroke="#1c2c4c" stroke-width="17"/>
</g>
<path d="M68 478V500A532 532 0 0 0 1132 500V478" fill="none" stroke="#2a4c80" stroke-width="38" stroke-linecap="butt"/>
<g fill="#1c2c4c"><circle cx="420" cy="105" r="11"/><circle cx="600" cy="90" r="11"/><circle cx="775" cy="105" r="11"/><circle cx="245" cy="185" r="11"/><circle cx="955" cy="185" r="11"/></g>
<text x="283" y="582" font-size="208" font-weight="bold" fill="#2a2222" stroke="#2a2222" stroke-width="9" textLength="632" lengthAdjust="spacingAndGlyphs" style="font-family:'Liberation Sans',sans-serif">PRiSE</text>
</g>
<g id="ico10" transform="translate(1670,160) scale(0.2564)">
<defs><radialGradient id="g10" cx=".4" cy=".4" r=".7"><stop offset="0" stop-color="#2f8ac8"/><stop offset="1" stop-color="#1f4a88"/></radialGradient></defs>
<rect x="522" y="28" width="714" height="383" fill="#fdfdfd"/>
<path d="M642 58C680 55 705 75 697 105C690 135 665 150 650 165C630 185 615 205 622 235C625 250 634 266 634 266C600 255 560 215 557 166C555 110 590 62 642 58Z" fill="url(#g10)"/>
<path d="M723 181C770 195 805 240 800 290C795 330 760 345 715 340C745 320 755 290 745 262C735 235 735 205 723 181Z" fill="url(#g10)"/>
<circle cx="679" cy="226" r="52" fill="#fdfdfd"/>
<circle cx="679" cy="226" r="37" fill="#e8822c"/>
<g fill="none" stroke="#2a5078" stroke-width="13"><path d="M905 182H850V288H905M850 234H898"/><path d="M992 182H937V292M937 236H984"/><path d="M1138 202Q1112 174 1082 186Q1052 200 1052 236Q1054 278 1086 288Q1115 294 1138 272"/></g>
<path d="M1024 160V292" stroke="#e8822c" stroke-width="9"/><circle cx="1024" cy="132" r="11" fill="#e8822c"/>
<text x="843" y="329" font-size="25" font-weight="bold" fill="#3a4656" textLength="298" lengthAdjust="spacingAndGlyphs" style="font-family:'Liberation Sans',sans-serif">EUROPEAN PAIN FEDERATION</text>
</g>
<g id="ico9" transform="translate(1670,160) scale(0.2564)" stroke-linejoin="round" stroke-linecap="round">
<path d="M80 780Q70 815 85 850L440 1010L810 725Q825 695 805 665L440 935Z" fill="#e8782c" stroke="#1c2238" stroke-width="14"/>
<path d="M80 720Q70 755 85 790L440 945L810 670Q825 640 805 610L440 870Z" fill="#f09a40" stroke="#1c2238" stroke-width="14"/>
<path d="M80 660Q70 695 85 730L440 880L810 615Q825 585 805 555L440 805Z" fill="#f4b848" stroke="#1c2238" stroke-width="14"/>
<path d="M80 600Q70 635 85 670L440 815L810 560Q825 530 805 500L440 740Z" fill="#f8cc68" stroke="#1c2238" stroke-width="14"/>
<path d="M80 535Q70 570 85 610L440 750L810 505Q825 475 805 445L440 675Z" fill="#3a8ccc" stroke="#1c2238" stroke-width="14"/>
<path d="M80 470Q70 505 85 545L440 685L810 450Q825 420 805 390L440 610Z" fill="#4aa2de" stroke="#1c2238" stroke-width="14"/>
<path d="M85 475L445 258L795 388L440 618Z" fill="#fbfbfd" stroke="#1c2238" stroke-width="15"/>
<g stroke="#1c2238" stroke-width="19" fill="none"><path d="M385 368L555 437"/><path d="M325 402L540 492"/><path d="M272 440L472 528"/><path d="M218 476L412 566"/></g>
<circle cx="448" cy="320" r="11" fill="#1c2238"/><circle cx="486" cy="335" r="11" fill="#1c2238"/>
<path d="M545 345L660 392L650 412L535 365Z" fill="#4aa2de" stroke="#1c2238" stroke-width="13"/>
<!-- ribbons -->
<path d="M690 925L610 1062L682 1040L722 1097L792 958Z" fill="#f4b830" stroke="#2a4c70" stroke-width="11"/>
<path d="M870 958L940 1097L977 1040L1042 1062L965 925Z" fill="#e8642c" stroke="#2a4c70" stroke-width="11"/>
<circle cx="830" cy="770" r="255" fill="#e8822c" stroke="#2a4c70" stroke-width="13"/>
<circle cx="830" cy="770" r="188" fill="#f6bc30" stroke="#2a4c70" stroke-width="10"/>
<circle cx="830" cy="770" r="160" fill="#f4f0e4"/>
<circle cx="830" cy="770" r="150" fill="#4a9cd8" stroke="#2a5c90" stroke-width="8"/>
<rect x="715" y="735" width="36" height="115" rx="12" fill="#f4a030" stroke="#1c2238" stroke-width="10"/>
<path d="M770 745Q800 720 805 670Q830 655 838 690L832 735H900Q920 740 912 765Q925 785 910 800Q920 820 905 832Q910 855 890 858H800Q775 855 770 840Z" fill="#fbfbf8" stroke="#1c2238" stroke-width="11"/>
<path d="M850 768H905M850 800H905M850 832H900" stroke="#1c2238" stroke-width="9" fill="none"/>
</g>

</svg>
</body></html>
